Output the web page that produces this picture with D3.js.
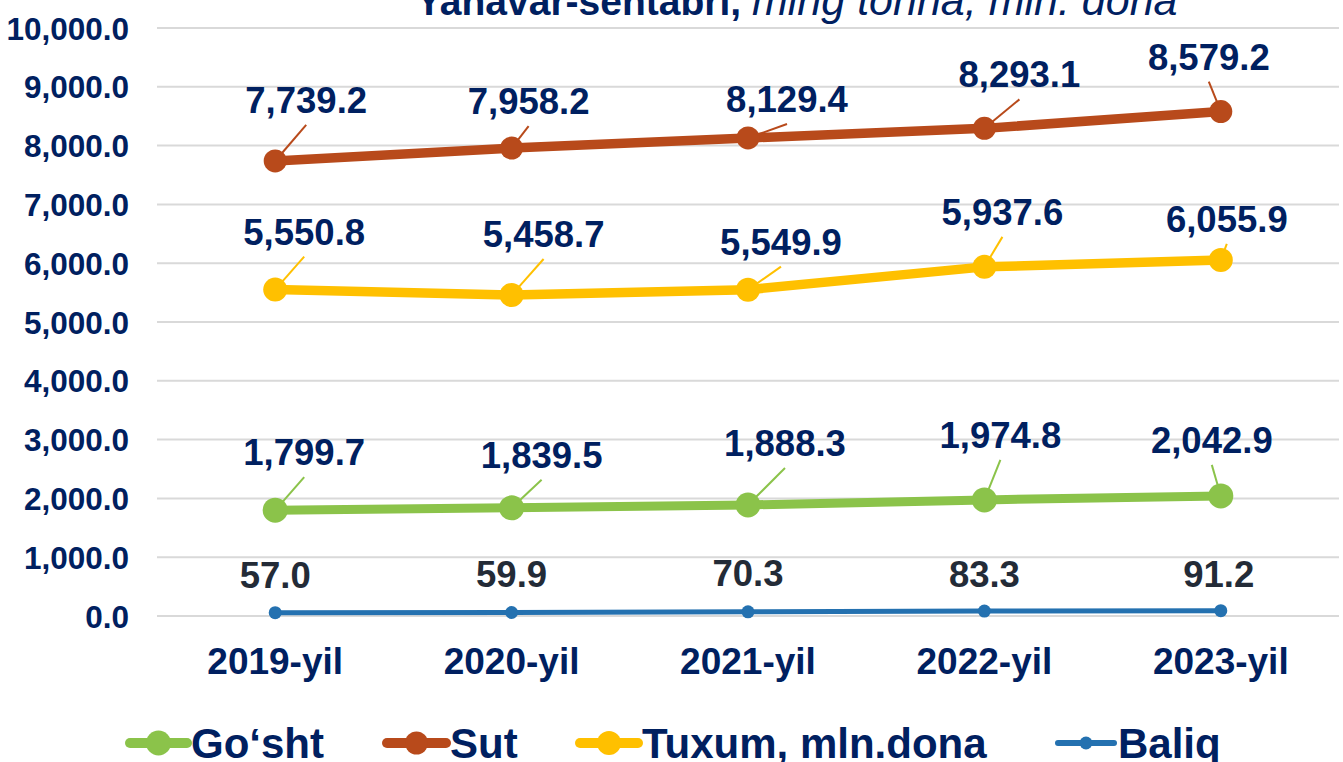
<!DOCTYPE html>
<html>
<head>
<meta charset="utf-8">
<script src="https://cdn.jsdelivr.net/npm/d3@7"></script>
<style>
  html, body { margin: 0; padding: 0; background: #ffffff; }
  svg { display: block; font-family: "Liberation Sans", Arial, sans-serif; }
</style>
</head>
<body>
<svg id="chart" width="1343" height="762"></svg>
<script>
// ---------- data ----------
const categories = ["2019-yil", "2020-yil", "2021-yil", "2022-yil", "2023-yil"];
const seriesNames = ["Go\u2018sht", "Sut", "Tuxum, mln.dona", "Baliq"];
const goshtValues = [1799.7, 1839.5, 1888.3, 1974.8, 2042.9];
const sutValues   = [7739.2, 7958.2, 8129.4, 8293.1, 8579.2];
const tuxumValues = [5550.8, 5458.7, 5549.9, 5937.6, 6055.9];
const baliqValues = [57.0, 59.9, 70.3, 83.3, 91.2];
const yTicks = [0, 1000, 2000, 3000, 4000, 5000, 6000, 7000, 8000, 9000, 10000];
const titleBold = "Yanavar-sentabri,";
const titleItalic = "ming tonna, mln. dona";

// ---------- layout / style (not data) ----------
const colors = ["#8bc34a", "#b84a1b", "#ffc000", "#2471b0"];
const lineWidths = [9, 9.5, 9.5, 5];
const markerR = [12.5, 11.5, 12, 6.5];
const labelColors = ["#002060", "#002060", "#002060", "#232b37"];
const showLeaders = [true, true, true, false];
// label centre/baseline offsets from each marker, in pixels
const labelDx = [
  [29, 30, 37, 16, -9],
  [31, 17, 39, 35, -12],
  [29, 32, 33, 18, 6],
  [0, 0, 0, 0, -2]
];
const labelDy = [
  [-45, -40, -49, -52, -43],
  [-48, -34, -26, -41, -42],
  [-45, -48, -35, -42, -28],
  [-25, -25, -26, -24, -24]
];
const legendX = [130, 387, 580, 1058];   // line start of each legend item
const legendTextGap = [61, 63, 62, 60];

const values = [goshtValues, sutValues, tuxumValues, baliqValues];
const navy = "#002060";

const svg = d3.select("#chart");

const x = d3.scaleBand().domain(categories).range([157, 1339]).padding(0);
const y = d3.scaleLinear().domain([0, 10000]).range([616, 28]);
const cx = c => x(c) + x.bandwidth() / 2;
const fmt = d3.format(",.1f");

// gridlines
svg.append("g").selectAll("line").data(yTicks).join("line")
  .attr("x1", 157).attr("x2", 1339)
  .attr("y1", d => y(d)).attr("y2", d => y(d))
  .attr("stroke", "#d9d9d9").attr("stroke-width", 2);

// y axis labels
const yAxis = d3.axisLeft(y).tickValues(yTicks).tickFormat(fmt).tickSize(0).tickPadding(0);
const yg = svg.append("g").attr("transform", "translate(129,0)").call(yAxis);
yg.select(".domain").remove();
yg.selectAll("text")
  .attr("fill", navy).attr("font-size", 31.5).attr("font-weight", "bold")
  .attr("font-family", "'Liberation Sans', Arial, sans-serif")
  .attr("dy", null).attr("y", 11).attr("text-anchor", "end");

// x axis labels
const xAxis = d3.axisBottom(x).tickSize(0).tickPadding(0);
const xg = svg.append("g").attr("transform", "translate(0,616)").call(xAxis);
xg.select(".domain").remove();
xg.selectAll("text")
  .attr("fill", navy).attr("font-size", 37).attr("font-weight", "bold")
  .attr("font-family", "'Liberation Sans', Arial, sans-serif")
  .attr("dy", null).attr("y", 58);

// title (partly cut off at top, as in the reference)
const title = svg.append("text").attr("x", 416).attr("y", 15)
  .attr("fill", navy);
title.append("tspan").attr("font-weight", "bold").attr("font-size", 39).text(titleBold + " ");
title.append("tspan").attr("font-style", "italic").attr("font-size", 43).text(titleItalic);

// series
const lineGen = d3.line().x((d, i) => cx(categories[i])).y(d => y(d));

values.forEach((vals, s) => {
  const g = svg.append("g");
  g.append("path").datum(vals)
    .attr("d", lineGen).attr("fill", "none")
    .attr("stroke", colors[s]).attr("stroke-width", lineWidths[s])
    .attr("stroke-linejoin", "round");
  g.selectAll("circle").data(vals).join("circle")
    .attr("cx", (d, i) => cx(categories[i])).attr("cy", d => y(d))
    .attr("r", markerR[s]).attr("fill", colors[s]);
});

// leaders and labels
values.forEach((vals, s) => {
  const g = svg.append("g");
  vals.forEach((v, i) => {
    const mx = cx(categories[i]), my = y(v);
    const lx = mx + labelDx[s][i], ly = my + labelDy[s][i];
    if (showLeaders[s]) {
      const tx = lx, ty = ly + 12;
      const dx = tx - mx, dy = ty - my;
      const dist = Math.sqrt(dx * dx + dy * dy);
      if (dist > markerR[s] + 4) {
        const ex = mx + dx / dist * (markerR[s] - 2), ey = my + dy / dist * (markerR[s] - 2);
        g.append("line").attr("x1", tx).attr("y1", ty).attr("x2", ex).attr("y2", ey)
          .attr("stroke", colors[s]).attr("stroke-width", 2);
      }
    }
    g.append("text").attr("x", lx).attr("y", ly)
      .attr("text-anchor", "middle").attr("font-size", 36.5).attr("font-weight", "bold")
      .attr("fill", labelColors[s]).text(fmt(v));
  });
});

// legend
const legend = svg.append("g");
seriesNames.forEach((name, s) => {
  const lx = legendX[s], ly = 743;
  const item = legend.append("g");
  item.append("line").attr("x1", lx).attr("x2", lx + legendTextGap[s] - 4)
    .attr("y1", ly).attr("y2", ly)
    .attr("stroke", colors[s]).attr("stroke-width", s === 3 ? 6 : 10).attr("stroke-linecap", "round");
  item.append("circle").attr("cx", lx + (legendTextGap[s] - 4) / 2).attr("cy", ly)
    .attr("r", markerR[s]).attr("fill", colors[s]);
  item.append("text").attr("x", lx + legendTextGap[s]).attr("y", 758)
    .attr("font-size", 42).attr("font-weight", "bold").attr("fill", navy).text(name);
});
</script>
</body>
</html>
